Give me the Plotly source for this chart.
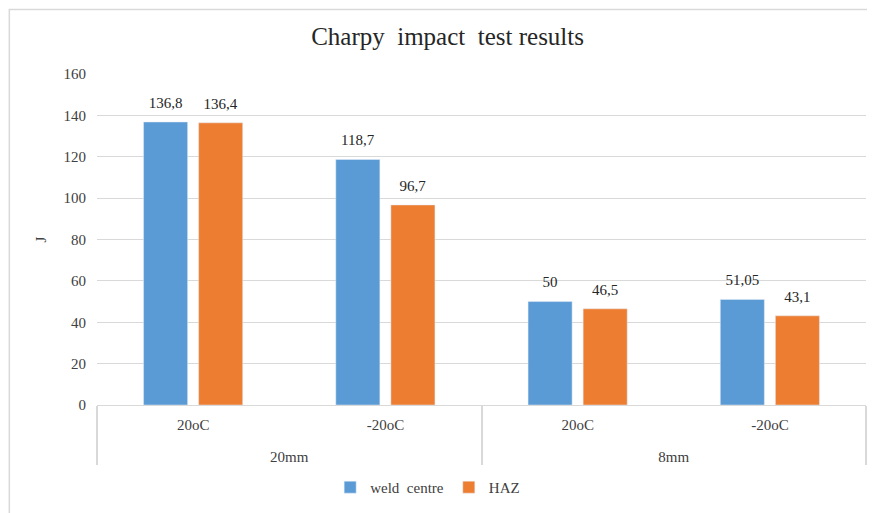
import plotly.graph_objects as go

# data
thickness = ['20mm', '20mm', '8mm', '8mm']
temperature = ['20oC', '-20oC', '20oC', '-20oC']
weld_centre = [136.8, 118.7, 50, 51.05]
haz = [136.4, 96.7, 46.5, 43.1]


def etiqueta(v):
    # comma decimals, with a small blank line to lift the label off the bar
    return ('<span style="font-size:15px">' + f"{v:g}".replace('.', ',')
            + '</span><br>&nbsp;')


font_serif = "Liberation Serif, Times New Roman, serif"

# group labels pushed one line down to mimic the spacing in the original
grupos = ['<br>' + t for t in thickness]

fig = go.Figure()

fig.add_trace(go.Bar(
    name='weld  centre',
    x=[grupos, temperature],
    y=weld_centre,
    text=[etiqueta(v) for v in weld_centre],
    textposition='outside',
    cliponaxis=False,
    marker_color='#5B9BD5',
    textfont=dict(family=font_serif, size=7, color='#262626')
))

fig.add_trace(go.Bar(
    name='HAZ',
    x=[grupos, temperature],
    y=haz,
    text=[etiqueta(v) for v in haz],
    textposition='outside',
    cliponaxis=False,
    marker_color='#ED7D31',
    textfont=dict(family=font_serif, size=7, color='#262626')
))

# the page body adds 8px, so the figure is sized 8px smaller
fig.update_layout(
    width=867,
    height=505,
    paper_bgcolor='white',
    plot_bgcolor='white',
    margin=dict(l=89, r=9, t=66, b=106),
    font=dict(family=font_serif, size=15, color='#404040'),
    uniformtext=dict(mode=False),
    title=dict(
        text='Charpy  impact  test results',
        x=0.507, xanchor='center',
        y=0.945, yanchor='middle',
        font=dict(family=font_serif, size=25, color='#262626')
    ),
    barmode='group',
    bargap=0.427,
    bargroupgap=0.2,
    showlegend=True,
    legend=dict(
        orientation='h',
        x=0.43, xanchor='center',
        y=-0.249, yanchor='middle',
        font=dict(family=font_serif, size=15, color='#404040'),
        itemwidth=30,
        traceorder='normal'
    ),
    xaxis=dict(
        automargin=False,
        showgrid=False,
        showline=True,
        linecolor='#D9D9D9',
        linewidth=1,
        ticks='',
        ticklabelstandoff=6,
        showdividers=True,
        dividercolor='#D9D9D9',
        dividerwidth=1.5,
        tickfont=dict(family=font_serif, size=15, color='#404040')
    ),
    yaxis=dict(
        automargin=False,
        range=[0, 160],
        dtick=20,
        showgrid=True,
        gridcolor='#D9D9D9',
        gridwidth=1,
        zeroline=False,
        showline=False,
        ticks='',
        ticklabelstandoff=10,
        title=dict(text='J', standoff=13,
                   font=dict(family=font_serif, size=15, color='#404040')),
        tickfont=dict(family=font_serif, size=15, color='#404040')
    ),
    shapes=[dict(
        type='rect', xref='paper', yref='paper',
        x0=-0.114, x1=1.03, y0=-0.35, y1=1.195,
        line=dict(color='#D9D9D9', width=1.5),
        fillcolor='rgba(0,0,0,0)', layer='below'
    )]
)

fig.write_html("out.html")
